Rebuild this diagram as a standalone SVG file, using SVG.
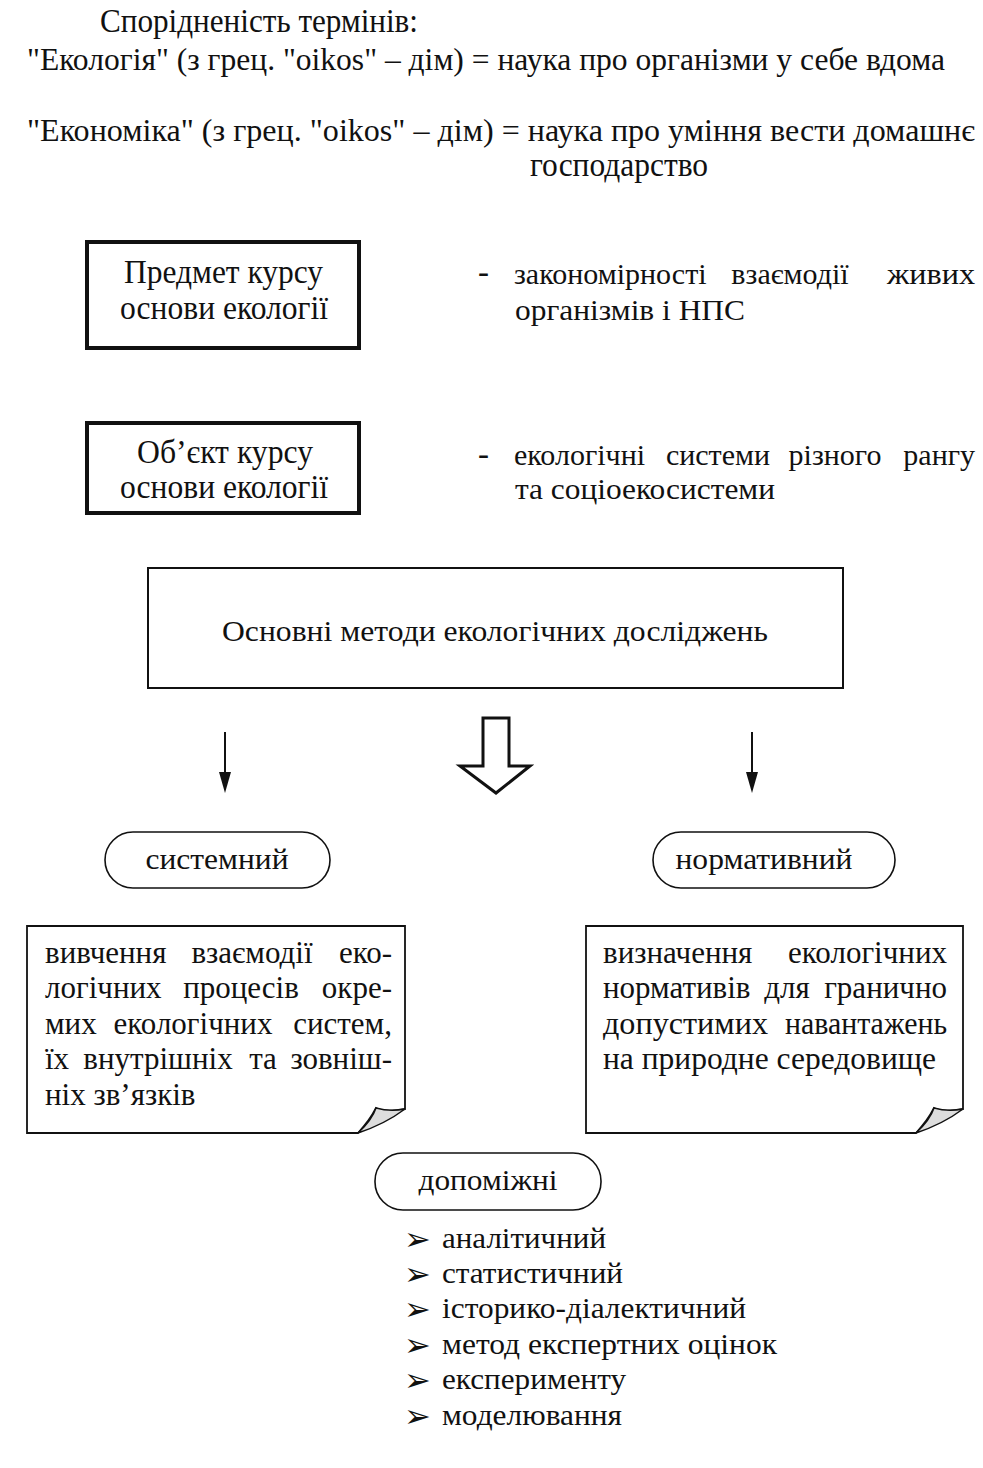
<svg xmlns="http://www.w3.org/2000/svg" width="983" height="1468" viewBox="0 0 983 1468">
<style>
text{font-family:"Liberation Serif","Times New Roman",serif;fill:#111;}
.c{font-size:33px;}
.h{font-size:31px;}
.r{font-size:29px;}
.n{font-size:30px;}
.t{font-size:31px;}
.m{text-anchor:middle;}
.e{text-anchor:end;}
.thick{fill:#fff;stroke:#111;stroke-width:4;}
.thin{fill:#fff;stroke:#111;stroke-width:2;}
.pill{fill:#fff;stroke:#111;stroke-width:1.6;}
.note{fill:#fff;stroke:#111;stroke-width:1.8;}
.line{stroke:#111;stroke-width:2;fill:none;}
.bul{font-family:"DejaVu Sans",sans-serif;font-size:32px;}
</style>
<rect width="983" height="1468" fill="#fff"/>

<g id="header">
<text class="c" x="100" y="32" textLength="318" lengthAdjust="spacingAndGlyphs">Спорідненість термінів:</text>
<text class="h" x="27" y="70" textLength="918" lengthAdjust="spacingAndGlyphs">"Екологія" (з грец. "oikos" – дім) = наука про організми у себе вдома</text>
<text class="h" x="27" y="141" textLength="948" lengthAdjust="spacingAndGlyphs">"Економіка" (з грец. "oikos" – дім) = наука про уміння вести домашнє</text>
<text class="c" x="530" y="176" textLength="178" lengthAdjust="spacingAndGlyphs">господарство</text>
</g>

<g id="subject">
<rect class="thick" x="87" y="242" width="272" height="106"/>
<text class="c" x="124" y="283" textLength="199" lengthAdjust="spacingAndGlyphs">Предмет курсу</text>
<text class="c" x="120" y="319" textLength="208" lengthAdjust="spacingAndGlyphs">основи екології</text>
</g>
<g id="subject-desc">
<text class="c" x="478" y="283">-</text>
<text class="n" x="514" y="284">закономірності</text>
<text class="n m" x="790" y="284">взаємодії</text>
<text class="n e" x="975" y="284" textLength="88" lengthAdjust="spacingAndGlyphs">живих</text>
<text class="n" x="515" y="320" textLength="230" lengthAdjust="spacingAndGlyphs">організмів і НПС</text>
</g>

<g id="object">
<rect class="thick" x="87" y="423" width="272" height="90"/>
<text class="c" x="137" y="463" textLength="176" lengthAdjust="spacingAndGlyphs">Об’єкт курсу</text>
<text class="c" x="120" y="498" textLength="208" lengthAdjust="spacingAndGlyphs">основи екології</text>
</g>
<g id="object-desc">
<text class="c" x="478" y="465">-</text>
<text class="n" x="514" y="465">екологічні</text>
<text class="n m" x="718" y="465">системи</text>
<text class="n m" x="835" y="465">різного</text>
<text class="n e" x="975" y="465">рангу</text>
<text class="n" x="515" y="499" textLength="260" lengthAdjust="spacingAndGlyphs">та соціоекосистеми</text>
</g>

<g id="methods">
<rect class="thin" x="148" y="568" width="695" height="120"/>
<text class="r" x="222" y="641" textLength="546" lengthAdjust="spacingAndGlyphs">Основні методи екологічних досліджень</text>
</g>

<g id="connectors">
<line class="line" x1="225" y1="732" x2="225" y2="775"/>
<path d="M219,772 L231,772 L225,793 Z" fill="#111"/>
<line class="line" x1="752" y1="732" x2="752" y2="775"/>
<path d="M746,772 L758,772 L752,793 Z" fill="#111"/>
<path d="M483,718 L509,718 L509,766 L530,766 L496,793 L460,766 L483,766 Z" fill="#fff" stroke="#111" stroke-width="3" stroke-linejoin="miter"/>
</g>

<g id="systemic">
<rect class="pill" x="105" y="832" width="225" height="56" rx="28" ry="28"/>
<text class="r m" x="217" y="869" textLength="143" lengthAdjust="spacingAndGlyphs">системний</text>
</g>
<g id="normative">
<rect class="pill" x="653" y="832" width="242" height="56" rx="28" ry="28"/>
<text class="r m" x="764" y="869" textLength="177" lengthAdjust="spacingAndGlyphs">нормативний</text>
</g>

<g id="systemic-note">
<path class="note" d="M27,926 L405,926 L405,1109 Q385,1113 376,1108 Q370,1120 358,1133 L27,1133 Z"/>
<path d="M358,1133 Q372,1120 376,1108 Q390,1112 405,1109 Q385,1124 358,1133 Z" fill="#ddd" stroke="#111" stroke-width="1.5"/>
<text class="t" x="45" y="963">вивчення</text>
<text class="t m" x="252" y="963">взаємодії</text>
<text class="t e" x="392" y="963">еко-</text>
<text class="t" x="45" y="998">логічних</text>
<text class="t m" x="241" y="998">процесів</text>
<text class="t e" x="392" y="998">окре-</text>
<text class="t" x="45" y="1034">мих</text>
<text class="t m" x="193" y="1034">екологічних</text>
<text class="t e" x="392" y="1034">систем,</text>
<text class="t" x="45" y="1069">їх</text>
<text class="t m" x="158" y="1069">внутрішніх</text>
<text class="t m" x="263" y="1069">та</text>
<text class="t e" x="392" y="1069">зовніш-</text>
<text class="t" x="45" y="1105">ніх зв’язків</text>
</g>

<g id="normative-note">
<path class="note" d="M586,926 L963,926 L963,1109 Q943,1113 934,1108 Q928,1120 916,1133 L586,1133 Z"/>
<path d="M916,1133 Q930,1120 934,1108 Q948,1112 963,1109 Q943,1124 916,1133 Z" fill="#ddd" stroke="#111" stroke-width="1.5"/>
<text class="t" x="603" y="963">визначення</text>
<text class="t e" x="947" y="963">екологічних</text>
<text class="t" x="603" y="998">нормативів</text>
<text class="t m" x="787" y="998">для</text>
<text class="t e" x="947" y="998">гранично</text>
<text class="t" x="603" y="1034" textLength="165" lengthAdjust="spacingAndGlyphs">допустимих</text>
<text class="t e" x="947" y="1034" textLength="162" lengthAdjust="spacingAndGlyphs">навантажень</text>
<text class="t" x="603" y="1069" textLength="333" lengthAdjust="spacingAndGlyphs">на природне середовище</text>
</g>

<g id="auxiliary">
<rect class="pill" x="375" y="1153" width="226" height="57" rx="28" ry="28"/>
<text class="r m" x="488" y="1190" textLength="139" lengthAdjust="spacingAndGlyphs">допоміжні</text>
</g>

<g id="aux-list">
<text class="bul" x="404" y="1250">➢</text>
<text class="r" x="442" y="1248" textLength="164" lengthAdjust="spacingAndGlyphs">аналітичний</text>
<text class="bul" x="404" y="1285">➢</text>
<text class="r" x="442" y="1283" textLength="181" lengthAdjust="spacingAndGlyphs">статистичний</text>
<text class="bul" x="404" y="1320">➢</text>
<text class="r" x="442" y="1318" textLength="304" lengthAdjust="spacingAndGlyphs">історико-діалектичний</text>
<text class="bul" x="404" y="1356">➢</text>
<text class="r" x="442" y="1354" textLength="335" lengthAdjust="spacingAndGlyphs">метод експертних оцінок</text>
<text class="bul" x="404" y="1391">➢</text>
<text class="r" x="442" y="1389" textLength="184" lengthAdjust="spacingAndGlyphs">експерименту</text>
<text class="bul" x="404" y="1427">➢</text>
<text class="r" x="442" y="1425" textLength="180" lengthAdjust="spacingAndGlyphs">моделювання</text>
</g>
</svg>
